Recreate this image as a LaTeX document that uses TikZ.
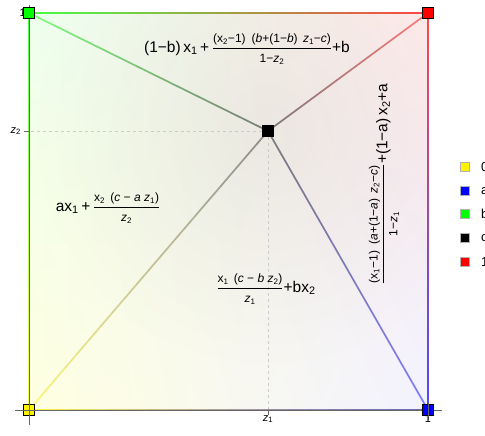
\documentclass[tikz,border=0pt]{standalone}
\usepackage{amsmath}
\usepackage{fontspec}
\setmainfont{Liberation Sans}
\usetikzlibrary{calc,fadings,shadings}
\tikzfading[name=centerfade,inner color=transparent!0,outer color=transparent!100]
\newcommand{\fr}[2]{$\dfrac{\mbox{\fontsize{12}{13}\selectfont #1}}{\mbox{\fontsize{12}{13}\selectfont #2}}$}
\newcommand{\sub}[1]{\textsubscript{#1}}

\begin{document}
\begin{tikzpicture}[x=1pt,y=-1pt,
  lbl/.style={font=\fontsize{15.5}{17}\selectfont,inner sep=0},
  ticklbl/.style={font=\fontsize{11}{12}\selectfont,inner sep=1},
  leg/.style={font=\fontsize{13}{14}\selectfont,inner sep=0},
  mk/.style={draw=black,line width=.6,minimum size=11,inner sep=0},
  swatch/.style={draw=black!30,line width=.4,minimum size=9,inner sep=0},
  axis/.style={draw=black!60,line width=.5},
  guide/.style={draw=black!20,dashed,line width=.4},
  ln/.style={line width=1.7,opacity=.7}]
  \useasboundingbox (0,0) rectangle (485,436);
  \clip (0,0) rectangle (485,436);
  \coordinate (ll) at (29,410);
  \coordinate (ul) at (29,13);
  \coordinate (ur) at (428,13);
  \coordinate (lr) at (428,410);
  \coordinate (cc) at (268,131);
  % background of the square
  \shade[upper left=green!7,upper right=red!8,lower left=yellow!12,lower right=blue!5] (ll) rectangle (ur);
  \begin{scope}
    \clip (ll) rectangle (ur);
    \fill[black,opacity=.05,path fading=centerfade] (cc) circle (240);
  \end{scope}
  \draw[guide] (cc) -- (cc |- ll);
  \draw[guide] (cc) -- (cc -| ll);
  % edges and spokes, colour runs from one end to the other
  \foreach \a/\b/\ca/\cb in {ul/ur/green/red,ur/lr/red/blue,ll/lr/yellow/blue,ul/ll/green/yellow,
      ll/cc/yellow/black!70,ul/cc/green/black!70,ur/cc/red/black!70,lr/cc/blue/black!70}
    \foreach \i in {0,...,19}{
      \pgfmathtruncatemacro\p{100-\i*5-2}
      \pgfmathtruncatemacro\j{\i+1}
      \draw[ln,color=\ca!\p!\cb] ($(\a)!\i/20!(\b)$) -- ($(\a)!\j/20!(\b)$);
    }
  % axes
  \draw[axis] (15,410) -- (442,410);
  \draw[axis] (29,425) -- (29,5);
  \draw[axis] (cc |- ll) -- ++(0,5);
  \draw[axis] (lr) -- ++(0,10);
  \draw[axis] (cc -| ll) -- ++(-5,0);
  \draw[axis] (ul) -- ++(-7,0);
  \node[ticklbl,anchor=north] (tz1) at (268,414) {\textit{z}\sub{1}};
  \node[ticklbl,anchor=north] (tone) at (428,414) {1};
  \node[ticklbl,anchor=east] (tz2) at (22,131) {\textit{z}\sub{2}};
  \node[ticklbl,anchor=east] (tonev) at (27,13) {1};
  % markers
  \node[mk,fill=yellow] (m0) at (ll) {};
  \node[mk,fill=blue] (ma) at (lr) {};
  \node[mk,fill=green] (mb) at (ul) {};
  \node[mk,fill=black] (mc) at (cc) {};
  \node[mk,fill=red] (m1) at (ur) {};
  \draw[axis] (22,410) -- (36,410);
  \draw[axis] (29,403) -- (29,417);
  \draw[axis] (428,403) -- (428,417);
  % region labels
  \node[lbl] (ftop) at (247,49) {(1−b)\,x\sub{1}\,+\,\fr{(x\sub{2}−1)\enspace(\textit{b}+(1−\textit{b})\, \textit{z}\sub{1}−\textit{c})}{1−\textit{z}\sub{2}}+b};
  \node[lbl] (fleft) at (108,208) {ax\sub{1}\,+\,\fr{x\sub{2}\, (\textit{c} − \textit{a} \textit{z}\sub{1})}{\textit{z}\sub{2}}};
  \node[lbl] (fbottom) at (266,289) {\fr{x\sub{1}\, (\textit{c} − \textit{b} \textit{z}\sub{2})}{\textit{z}\sub{1}}+bx\sub{2}};
  \node[lbl,rotate=90] (fright) at (384,184) {\fr{(x\sub{1}−1)\enspace(\textit{a}+(1−\textit{a})\, \textit{z}\sub{2}−\textit{c})}{1−\textit{z}\sub{1}}+(1−a)\,x\sub{2}+a};
  % legend
  \foreach \n/\c/\t/\y in {0/yellow/0/167,1/blue/a/191,2/green/b/214,3/black/c/238,4/red/1/262}{
    \node[swatch,fill=\c] (sw\n) at (465,\y) {};
    \node[leg,anchor=west] (lg\n) at (481,\y) {\t};
  }
\end{tikzpicture}
\end{document}
